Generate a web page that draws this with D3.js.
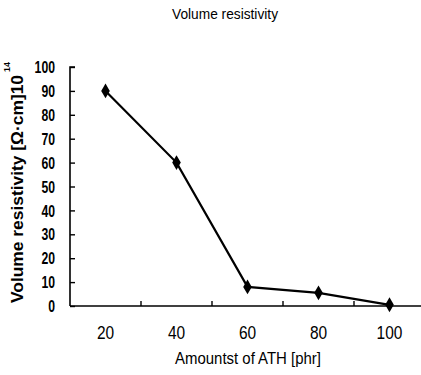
<!DOCTYPE html>
<html>
<head>
<meta charset="utf-8">
<script src="https://cdn.jsdelivr.net/npm/d3@7"></script>
<style>
  body { margin: 0; background: #fff; }
  text { fill: #000; }
</style>
</head>
<body>
<div id="chart"></div>
<script>
var amounts = ["20", "40", "60", "80", "100"],
    resistivity = [90, 60, 8, 5.5, 0.5],
    yTicks = [0, 10, 20, 30, 40, 50, 60, 70, 80, 90, 100];

var width = 421, height = 375,
    margin = {top: 67, right: 0, bottom: 69, left: 70},
    font = "'Liberation Sans', Arial, sans-serif";

var svg = d3.select("#chart").append("svg")
    .attr("width", width)
    .attr("height", height)
    .style("font-family", font);

var x = d3.scaleBand()
    .domain(amounts)
    .range([margin.left, margin.left + 71 * amounts.length]);

var y = d3.scaleLinear()
    .domain([0, 100])
    .range([height - margin.bottom, margin.top]);

// squeeze text to the narrow face of the scan
function narrow (sel, perChar) {
    sel.attr("textLength", function (d) { return String(d).length * perChar; })
        .attr("lengthAdjust", "spacingAndGlyphs");
}

// y axis: line + inward ticks
var yAxis = svg.append("g")
    .attr("transform", "translate(" + (margin.left) + ",0)")
    .call(d3.axisRight(y).tickValues(yTicks).tickSize(5).tickFormat(""));
yAxis.select(".domain").attr("stroke-width", 1.6).attr("d", "M5," + y(100) + "H0V" + y(0));
yAxis.selectAll(".tick line").attr("stroke-width", 1.4);

svg.append("g").selectAll("text")
    .data(yTicks)
    .join("text")
    .attr("x", 55)
    .attr("y", function (d) { return y(d); })
    .attr("dy", "0.36em")
    .attr("text-anchor", "end")
    .style("font-size", "17px")
    .style("font-weight", "bold")
    .call(narrow, 6.8)
    .text(function (d) { return d; });

// x axis: line + ticks between categories
var boundaries = amounts.slice(1).map(function (d) { return x(d); });
var xAxis = svg.append("g").attr("transform", "translate(0," + (height - margin.bottom) + ")");
xAxis.append("line")
    .attr("x1", margin.left).attr("x2", width)
    .attr("stroke", "#000").attr("stroke-width", 1.6);
xAxis.selectAll(".tk")
    .data(boundaries)
    .join("line")
    .attr("x1", function (d) { return d; })
    .attr("x2", function (d) { return d; })
    .attr("y1", 0).attr("y2", -5)
    .attr("stroke", "#000").attr("stroke-width", 1.4);

svg.append("g").selectAll("text")
    .data(amounts)
    .join("text")
    .attr("x", function (d) { return x(d) + x.bandwidth() / 2; })
    .attr("y", 339)
    .attr("text-anchor", "middle")
    .style("font-size", "19px")
    .call(narrow, 8.6)
    .text(function (d) { return d; });

// series
var line = d3.line()
    .x(function (d, i) { return x(amounts[i]) + x.bandwidth() / 2; })
    .y(function (d) { return y(d); });

svg.append("path")
    .datum(resistivity)
    .attr("d", line)
    .attr("fill", "none")
    .attr("stroke", "#000")
    .attr("stroke-width", 2.2);

svg.append("g").selectAll("path")
    .data(resistivity)
    .join("path")
    .attr("transform", function (d, i) {
        return "translate(" + (x(amounts[i]) + x.bandwidth() / 2) + "," + y(d) + ")";
    })
    .attr("d", d3.symbol().type(d3.symbolDiamond).size(64))
    .attr("fill", "#000");

// titles
svg.append("text")
    .attr("x", 172).attr("y", 19)
    .style("font-size", "15px")
    .attr("textLength", 106)
    .attr("lengthAdjust", "spacingAndGlyphs")
    .text("Volume resistivity");

svg.append("text")
    .attr("x", 175).attr("y", 364)
    .style("font-size", "17px")
    .attr("textLength", 146)
    .attr("lengthAdjust", "spacingAndGlyphs")
    .text("Amountst of ATH [phr]");

svg.append("text")
    .attr("transform", "translate(23,303)rotate(-90)")
    .style("font-size", "17px")
    .style("font-weight", "bold")
    .attr("textLength", 228)
    .attr("lengthAdjust", "spacingAndGlyphs")
    .text("Volume resistivity [Ω·cm]10");

svg.append("text")
    .attr("transform", "translate(10,72)rotate(-90)")
    .style("font-size", "9px")
    .style("font-weight", "bold")
    .text("14");
</script>
</body>
</html>
